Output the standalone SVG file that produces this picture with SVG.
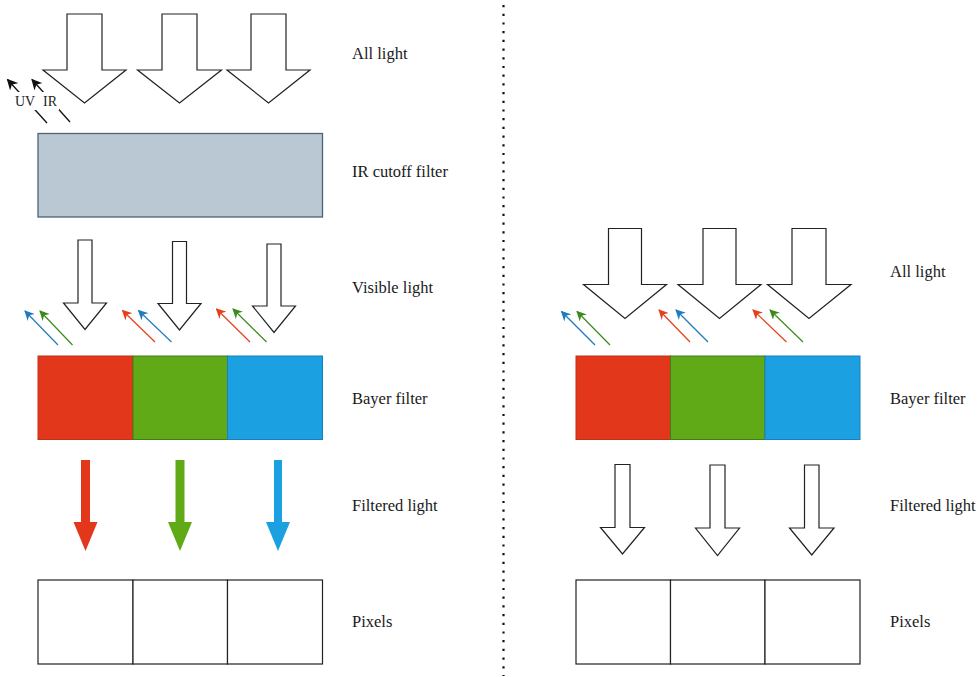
<svg xmlns="http://www.w3.org/2000/svg" width="980" height="677" viewBox="0 0 980 677">
<defs>
<style>
.lbl{font-family:"Liberation Serif","Times New Roman",serif;font-size:16.5px;fill:#1a1a1a}
.sm{font-family:"Liberation Serif","Times New Roman",serif;font-size:14px;fill:#222;text-anchor:middle}
.out{fill:#fff;stroke:#222;stroke-width:1.2;stroke-linejoin:miter}
.pix{fill:#fff;stroke:#222;stroke-width:1.2}
.k{stroke:#111;stroke-width:1.3;fill:none}
.b{stroke:#1f7bc0;stroke-width:1.2;fill:none}
.g{stroke:#3a8a1c;stroke-width:1.2;fill:none}
.r{stroke:#e4401a;stroke-width:1.2;fill:none}
</style>
<marker id="mk" viewBox="0 0 10 10" refX="9" refY="5" markerWidth="11" markerHeight="11" markerUnits="userSpaceOnUse" orient="auto"><path d="M0,0 L10,5 L0,10 L3,5 Z" fill="#111"/></marker>
<marker id="mb" viewBox="0 0 10 10" refX="9" refY="5" markerWidth="10" markerHeight="10" markerUnits="userSpaceOnUse" orient="auto"><path d="M0,0 L10,5 L0,10 L3,5 Z" fill="#1f7bc0"/></marker>
<marker id="mg" viewBox="0 0 10 10" refX="9" refY="5" markerWidth="10" markerHeight="10" markerUnits="userSpaceOnUse" orient="auto"><path d="M0,0 L10,5 L0,10 L3,5 Z" fill="#3a8a1c"/></marker>
<marker id="mr" viewBox="0 0 10 10" refX="9" refY="5" markerWidth="10" markerHeight="10" markerUnits="userSpaceOnUse" orient="auto"><path d="M0,0 L10,5 L0,10 L3,5 Z" fill="#e4401a"/></marker>
</defs>
<rect width="980" height="677" fill="#fff"/>

<g id="divider"><line x1="503.5" y1="5" x2="503.5" y2="676" stroke="#111" stroke-width="2.2" stroke-dasharray="2.2 6.5"/></g>

<g id="left-all-light">
<polygon class="out" points="67,14 102,14 102,70 126,70 84.5,103 43,70 67,70"/>
<polygon class="out" points="162,14 197,14 197,70 221.5,70 179.5,103 137.5,70 162,70"/>
<polygon class="out" points="251,14 286,14 286,70 310,70 268.5,103 227,70 251,70"/>
</g>

<g id="connectors">
<line class="k" x1="47" y1="123" x2="7.5" y2="79.5" marker-end="url(#mk)"/>
<line class="k" x1="70" y1="122" x2="32" y2="79.5" marker-end="url(#mk)"/>
<line class="b" x1="58" y1="345" x2="25" y2="311" marker-end="url(#mb)"/>
<line class="g" x1="72.5" y1="345" x2="40" y2="311" marker-end="url(#mg)"/>
<line class="r" x1="155" y1="342" x2="122.5" y2="310.5" marker-end="url(#mr)"/>
<line class="b" x1="171.5" y1="342" x2="138.5" y2="310.5" marker-end="url(#mb)"/>
<line class="r" x1="250" y1="342" x2="216.5" y2="309" marker-end="url(#mr)"/>
<line class="g" x1="266.5" y1="342" x2="233" y2="309" marker-end="url(#mg)"/>
<line class="b" x1="595" y1="345" x2="561.5" y2="311.5" marker-end="url(#mb)"/>
<line class="g" x1="610" y1="345" x2="577" y2="311.5" marker-end="url(#mg)"/>
<line class="r" x1="690" y1="342" x2="659" y2="310" marker-end="url(#mr)"/>
<line class="b" x1="708" y1="342" x2="676" y2="310" marker-end="url(#mb)"/>
<line class="r" x1="786.5" y1="342" x2="753" y2="310" marker-end="url(#mr)"/>
<line class="g" x1="803" y1="342" x2="770" y2="310" marker-end="url(#mg)"/>
</g>

<g id="uv-ir-labels">
<rect x="14" y="92" width="22" height="18" fill="#fff"/>
<rect x="41" y="92" width="18" height="18" fill="#fff"/>
<text class="sm" x="25" y="106">UV</text>
<text class="sm" x="50" y="106">IR</text>
</g>

<g id="ir-cutoff-filter"><rect x="38" y="133.5" width="284.5" height="83.5" fill="#bac8d3" stroke="#4a6479" stroke-width="1.3"/></g>

<g id="left-visible-light">
<polygon class="out" points="78,240 92,240 92,303 106.5,303 85,329.5 63.5,303 78,303"/>
<polygon class="out" points="172.5,241.5 186.5,241.5 186.5,303.5 201,303.5 179.5,330 158,303.5 172.5,303.5"/>
<polygon class="out" points="267,244 281,244 281,306 295.5,306 274,332.5 252.5,306 267,306"/>
</g>

<g id="left-bayer-filter">
<rect x="38" y="356" width="95" height="83.5" fill="#e2371a" stroke="#c0301a" stroke-width="1"/>
<rect x="133" y="356" width="94.5" height="83.5" fill="#60a917" stroke="#3f7f1a" stroke-width="1"/>
<rect x="227.5" y="356" width="95" height="83.5" fill="#1ba1e2" stroke="#1a80bb" stroke-width="1"/>
</g>

<g id="left-filtered-light">
<polygon fill="#e2371a" points="81,460 90,460 90,522 97.5,522 85.5,551 73.5,522 81,522"/>
<polygon fill="#60a917" points="175.5,460 184.5,460 184.5,522 192,522 180,551 168,522 175.5,522"/>
<polygon fill="#1ba1e2" points="274,460 282,460 282,522 290,522 278,551 266,522 274,522"/>
</g>

<g id="left-pixels">
<rect class="pix" x="38" y="580" width="95" height="84"/>
<rect class="pix" x="133" y="580" width="94.5" height="84"/>
<rect class="pix" x="227.5" y="580" width="95" height="84"/>
</g>

<g id="right-all-light">
<polygon class="out" points="608.5,228.5 641.5,228.5 641.5,284.5 666.5,284.5 625,318.5 583.5,284.5 608.5,284.5"/>
<polygon class="out" points="703,228.5 736,228.5 736,284.5 761,284.5 719.5,318.5 678,284.5 703,284.5"/>
<polygon class="out" points="792,228.5 826,228.5 826,284.5 851,284.5 809,318.5 767.5,284.5 792,284.5"/>
</g>

<g id="right-bayer-filter">
<rect x="576" y="356" width="94.5" height="83.5" fill="#e2371a" stroke="#c0301a" stroke-width="1"/>
<rect x="670.5" y="356" width="94.5" height="83.5" fill="#60a917" stroke="#3f7f1a" stroke-width="1"/>
<rect x="765" y="356" width="95" height="83.5" fill="#1ba1e2" stroke="#1a80bb" stroke-width="1"/>
</g>

<g id="right-filtered-light">
<polygon class="out" points="615,464.5 630,464.5 630,527.5 644.5,527.5 622.5,554 600.5,527.5 615,527.5"/>
<polygon class="out" points="710,465 725,465 725,528 739.5,528 717.5,555.5 695.5,528 710,528"/>
<polygon class="out" points="804.5,465 819,465 819,528 834,528 811.75,555 789.5,528 804.5,528"/>
</g>

<g id="right-pixels">
<rect class="pix" x="576" y="580" width="94.5" height="84"/>
<rect class="pix" x="670.5" y="580" width="94.5" height="84"/>
<rect class="pix" x="765" y="580" width="95" height="84"/>
</g>

<g id="labels">
<text class="lbl" x="352" y="59">All light</text>
<text class="lbl" x="352" y="177">IR cutoff filter</text>
<text class="lbl" x="352" y="293">Visible light</text>
<text class="lbl" x="352" y="404">Bayer filter</text>
<text class="lbl" x="352" y="511">Filtered light</text>
<text class="lbl" x="352" y="627">Pixels</text>
<text class="lbl" x="890" y="277">All light</text>
<text class="lbl" x="890" y="404">Bayer filter</text>
<text class="lbl" x="890" y="511">Filtered light</text>
<text class="lbl" x="890" y="627">Pixels</text>
</g>
</svg>
